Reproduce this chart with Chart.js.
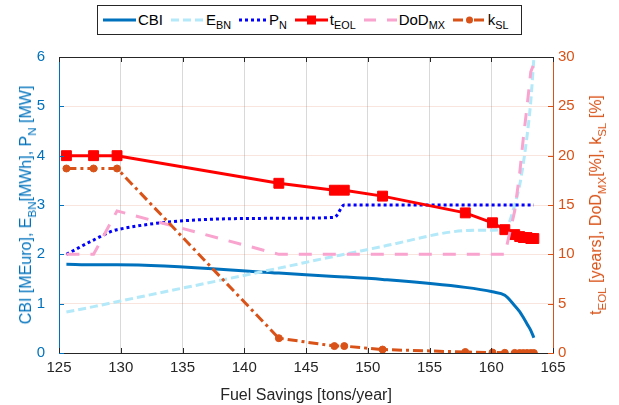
<!DOCTYPE html>
<html>
<head>
<meta charset="utf-8">
<script src="https://cdn.jsdelivr.net/npm/chart.js@4/dist/chart.umd.min.js"></script>
<style>
  html, body { margin:0; padding:0; background:#fff; }
  #wrap { position:relative; width:619px; height:405px; font-family:'Liberation Sans', Arial, sans-serif; }
  canvas { position:absolute; left:0; top:0; }
  #legend { position:absolute; left:97px; top:5px; width:425px; height:30px; border:1px solid #262626; background:#fff;
            display:flex; align-items:center; font-size:15px; color:#000; box-sizing:border-box; padding-left:4px; }
  #legend .it { display:flex; align-items:center; margin-right:7px; white-space:nowrap; }
  #legend .lbl { display:inline-block; line-height:16px; }
  #legend svg { display:block; margin-right:1px; }
  sub { font-size:0.72em; vertical-align:-0.4em; line-height:0; }
  .ytitle { position:absolute; white-space:nowrap; font-size:16px; transform:translate(-50%,-50%) rotate(-90deg); }
</style>
</head>
<body>
<div id="wrap">
  <canvas id="c" width="619" height="405"></canvas>
  <div id="legend">
    <span class="it"><svg width="35" height="10"><line x1="1" y1="5" x2="34" y2="5" stroke="#0072BD" stroke-width="3"/></svg><span class="lbl">CBI</span></span>
    <span class="it"><svg width="35" height="10"><line x1="1" y1="5" x2="34" y2="5" stroke="#B3E9F9" stroke-width="3" stroke-dasharray="8 4"/></svg><span class="lbl">E<sub>BN</sub></span></span>
    <span class="it"><svg width="30" height="10"><line x1="1" y1="5" x2="29" y2="5" stroke="#0000FF" stroke-width="3" stroke-dasharray="3 3"/></svg><span class="lbl">P<sub>N</sub></span></span>
    <span class="it"><svg width="35" height="12"><line x1="1" y1="6" x2="34" y2="6" stroke="#FF0000" stroke-width="3"/><rect x="13" y="1.5" width="9" height="9" fill="#FF0000"/></svg><span class="lbl">t<sub>EOL</sub></span></span>
    <span class="it"><svg width="35" height="10"><line x1="1" y1="5" x2="34" y2="5" stroke="#F9A3CF" stroke-width="3" stroke-dasharray="12 11"/></svg><span class="lbl">DoD<sub>MX</sub></span></span>
    <span class="it"><svg width="35" height="10"><line x1="1" y1="5" x2="34" y2="5" stroke="#D95319" stroke-width="3" stroke-dasharray="10 4 3 4"/><circle cx="17.5" cy="5" r="3.5" fill="#D95319"/></svg><span class="lbl">k<sub>SL</sub></span></span>
  </div>
  <div class="ytitle" style="left:26px; top:205px; color:#0072BD;">CBI [MEuro], E<sub>BN</sub>[MWh], P<sub>N</sub> [MW]</div>
  <div class="ytitle" style="left:596px; top:205px; color:#D95319;">t<sub>EOL</sub> [years], DoD<sub>MX</sub>[%], k<sub>SL</sub> [%]</div>
</div>
<script>
// ---- data ----
const fuelSavings = [125.6, 127.8, 129.7, 142.8, 147.3, 148.1, 151.2, 157.9, 160.1, 161.1, 161.9, 162.3, 162.6, 162.9, 163.2, 163.45];
const cbi  = [1.80, 1.79, 1.79, 1.62, 1.55, 1.54, 1.49, 1.33, 1.24, 1.17, 0.96, 0.84, 0.72, 0.59, 0.46, 0.31];
const eBN  = [0.83, 0.94, 1.04, 1.72, 1.96, 2.00, 2.16, 2.48, 2.49, 2.50, 3.00, 3.40, 3.85, 4.40, 5.10, 5.97];
const pN   = [2.00, 2.29, 2.50, 2.73, 2.75, 3.00, 3.00, 3.00, 3.00, 3.00, 3.00, 3.00, 3.00, 3.00, 3.00, 3.00];
const tEOL = [20, 20, 20, 17.2, 16.5, 16.5, 15.9, 14.2, 13.2, 12.5, 12.0, 11.8, 11.7, 11.7, 11.6, 11.6];
const dodMX= [10, 10, 14.4, 10, 10, 10, 10, 10, 10, 10, 14.4, 18.2, 21.8, 25.0, 28.5, 29.3];
const kSL  = [18.7, 18.7, 18.7, 1.5, 0.7, 0.7, 0.35, 0.1, 0.05, 0.02, 0.01, 0, 0, 0, 0, 0];
const xTicks = [125, 130, 135, 140, 145, 150, 155, 160, 165];
const yLeftTicks = [0, 1, 2, 3, 4, 5, 6];
const yRightTicks = [0, 5, 10, 15, 20, 25, 30];

const pts = arr => fuelSavings.map((x, i) => ({x, y: arr[i]}));

const insideTicks = {
  id: 'insideTicks',
  afterDatasetsDraw(chart) {
    const {ctx, chartArea: a, scales} = chart;
    ctx.save();
    ctx.lineWidth = 1;
    const L = 5;
    ctx.strokeStyle = '#262626';
    xTicks.forEach(v => {
      const px = Math.round(scales.x.getPixelForValue(v)) + 0.5;
      ctx.beginPath(); ctx.moveTo(px, a.bottom); ctx.lineTo(px, a.bottom - L); ctx.stroke();
      ctx.beginPath(); ctx.moveTo(px, a.top); ctx.lineTo(px, a.top + L); ctx.stroke();
    });
    ctx.strokeStyle = '#0072BD';
    yLeftTicks.forEach(v => {
      const py = Math.round(scales.y.getPixelForValue(v)) + 0.5;
      ctx.beginPath(); ctx.moveTo(a.left, py); ctx.lineTo(a.left + L, py); ctx.stroke();
    });
    ctx.strokeStyle = '#D95319';
    yRightTicks.forEach(v => {
      const py = Math.round(scales.y2.getPixelForValue(v)) + 0.5;
      ctx.beginPath(); ctx.moveTo(a.right, py); ctx.lineTo(a.right - L, py); ctx.stroke();
    });
    ctx.strokeStyle = '#262626';
    ctx.beginPath(); ctx.moveTo(a.left, a.top + 0.5); ctx.lineTo(a.right, a.top + 0.5); ctx.stroke();
    ctx.restore();
  }
};

new Chart(document.getElementById('c'), {
  type: 'line',
  data: {
    datasets: [
      { label: 'k_SL', data: pts(kSL), yAxisID: 'y2', borderColor: '#D95319', backgroundColor: '#D95319',
        borderWidth: 3, borderDash: [10, 4, 3, 4], pointStyle: 'circle', pointRadius: 3.5, pointBorderWidth: 1, order: 1 },
      { label: 'DoD_MX', data: pts(dodMX), yAxisID: 'y2', borderColor: '#F9A3CF', borderWidth: 3,
        borderDash: [13, 11], pointRadius: 0, order: 2 },
      { label: 't_EOL', data: pts(tEOL), yAxisID: 'y2', borderColor: '#FF0000', backgroundColor: '#FF0000',
        borderWidth: 3, pointStyle: 'rect', pointRadius: 7, pointBorderWidth: 1, order: 3 },
      { label: 'P_N', data: pts(pN), yAxisID: 'y', borderColor: '#0000FF', borderWidth: 3,
        borderDash: [3, 3], pointRadius: 0, cubicInterpolationMode: 'monotone', order: 4 },
      { label: 'E_BN', data: pts(eBN), yAxisID: 'y', borderColor: '#B3E9F9', borderWidth: 3,
        borderDash: [8, 4], pointRadius: 0, cubicInterpolationMode: 'monotone', order: 5 },
      { label: 'CBI', data: pts(cbi), yAxisID: 'y', borderColor: '#0072BD', borderWidth: 3,
        pointRadius: 0, cubicInterpolationMode: 'monotone', order: 6 }
    ]
  },
  options: {
    responsive: false,
    animation: false,
    layout: { padding: { top: 57, left: 0, right: 0, bottom: 0 } },
    plugins: { legend: { display: false }, tooltip: { enabled: false } },
    elements: { line: { borderCapStyle: 'butt' } },
    scales: {
      x: {
        type: 'linear', min: 125, max: 165,
        afterBuildTicks: s => { s.ticks = xTicks.map(v => ({value: v})); },
        afterFit: s => { s.height = 52; },
        ticks: { color: '#262626', font: { size: 15, family: "'Liberation Sans', Arial" }, padding: 6, maxRotation: 0 },
        grid: { color: 'rgba(0,0,0,0.15)', drawTicks: false },
        border: { color: '#262626', width: 1 },
        title: { display: true, text: 'Fuel Savings [tons/year]', color: '#262626',
                 font: { size: 16, family: "'Liberation Sans', Arial" }, padding: { top: 2, bottom: 0 } }
      },
      y: {
        position: 'left', min: 0, max: 6,
        afterBuildTicks: s => { s.ticks = yLeftTicks.map(v => ({value: v})); },
        afterFit: s => { s.width = 59; },
        ticks: { color: '#0072BD', font: { size: 15, family: "'Liberation Sans', Arial" }, padding: 6 },
        grid: { display: false },
        border: { color: '#0072BD', width: 1 }
      },
      y2: {
        position: 'right', min: 0, max: 30,
        afterBuildTicks: s => { s.ticks = yRightTicks.map(v => ({value: v})); },
        afterFit: s => { s.width = 66; },
        ticks: { color: '#D95319', font: { size: 15, family: "'Liberation Sans', Arial" }, padding: 5 },
        grid: { color: 'rgba(217,83,25,0.15)', drawTicks: false },
        border: { color: '#D95319', width: 1 }
      }
    }
  },
  plugins: [insideTicks]
});
</script>
</body>
</html>
